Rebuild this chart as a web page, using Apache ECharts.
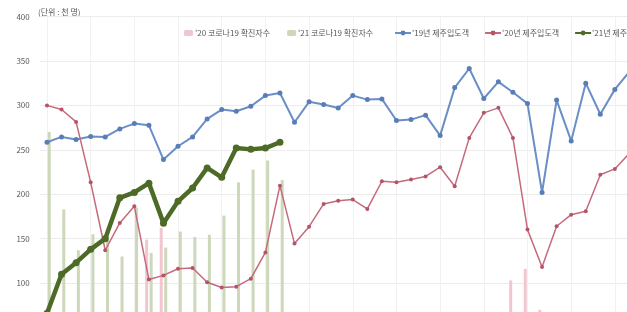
<!DOCTYPE html>
<html>
<head>
<meta charset="utf-8">
<script src="https://cdn.jsdelivr.net/npm/echarts@6/dist/echarts.min.js"></script>
<style>
  html, body { margin: 0; padding: 0; background: #fff; }
  #main { width: 627px; height: 312px; }
</style>
</head>
<body>
<div id="main"></div>
<script>
// 주차 (그림 밖으로 잘린 뒤쪽은 제외)
const weeks = [];
for (let i = 1; i <= 41; i++) weeks.push(i + '주');

// '19년 제주입도객 (천 명)
const visitors19 = [258.5, 264.5, 261.5, 265, 264.5, 273.5, 279.5, 277.6, 239, 254,
  264.5, 284.8, 295.3, 293.4, 299, 311, 314, 281, 304, 301,
  297, 311, 306.5, 307.3, 283, 284, 289, 266, 320, 341.5,
  307.7, 326.5, 314.8, 302, 202, 306, 260, 325, 290, 318, 338];

// '20년 제주입도객
const visitors20 = [300, 295.3, 281.4, 213.4, 137, 167.7, 186.4, 104, 108.7, 116.2,
  117, 101, 95, 96, 105, 134.5, 209.7, 144.5, 163.5, 189.1,
  192.8, 194, 183.5, 214.6, 213.5, 216.5, 220, 230.4, 209, 263.4,
  291.6, 297.2, 263.4, 160.2, 118.2, 164, 177, 180.8, 222, 228.5, 246];

// '21년 제주입도객
const visitors21 = [66, 110, 123, 138, 150, 196, 202, 212.5, 167.5, 192,
  207, 229.6, 219, 252, 250.5, 252, 258.5];

// 코로나19 확진자수 (막대)
const cases20 = [null, null, null, null, null, null, null, 149, 162, null,
  null, null, null, null, null, null, null, null, null, null,
  null, null, null, null, null, null, null, null, null, null,
  null, null, 103, 116, 70];
const cases21 = [270, 183, 137, 155, 155, 130, 185, 134, 140, 158,
  152, 154.5, 176, 213.4, 227.7, 238, 216];

const yTicks = { min: 0, max: 400, interval: 50 };

var myChart = echarts.init(document.getElementById('main'));

const labelColor = '#595959';
const font = "'Noto Sans CJK KR', 'Noto Sans', sans-serif";

const option = {
  backgroundColor: '#fff',
  animation: false,
  textStyle: { fontFamily: font },
  graphic: [
    {
      type: 'text',
      left: 38,
      top: 8,
      style: { text: '(단위 : 천 명)', fontSize: 8, fill: labelColor, fontFamily: font }
    }
  ],
  legend: [
    {
      data: ["'20 코로나19 확진자수", "'21 코로나19 확진자수"],
      left: 179,
      top: 24,
      width: 220,
      itemWidth: 9,
      itemHeight: 6,
      itemGap: 17,
      textStyle: { fontSize: 8, color: labelColor, padding: [0, 0, 0, -3] }
    },
    {
      data: ["'19년 제주입도객", "'20년 제주입도객", "'21년 제주입도객"],
      left: 389,
      top: 24,
      width: 400,
      itemWidth: 16,
      itemHeight: 6,
      itemGap: 15,
      textStyle: { fontSize: 8, color: labelColor, padding: [0, 0, 0, -4] }
    }
  ],
  grid: {
    left: 39.7,
    top: 16.5,
    width: 597,
    height: 355.5,
    outerBoundsMode: 'none',
    containLabel: false
  },
  xAxis: {
    type: 'category',
    data: weeks,
    axisLine: { show: false },
    axisTick: { show: false },
    axisLabel: { show: false },
    splitLine: { show: true, alignWithLabel: true, lineStyle: { color: '#f1f1f1', width: 1 } }
  },
  yAxis: {
    type: 'value',
    min: yTicks.min,
    max: yTicks.max,
    interval: yTicks.interval,
    axisLine: { show: false },
    axisTick: { show: false },
    axisLabel: { fontSize: 8, color: labelColor, margin: 10 },
    splitLine: { lineStyle: { color: '#ececec', width: 1 } }
  },
  series: [
    {
      name: "'20 코로나19 확진자수",
      type: 'bar',
      data: cases20,
      barWidth: 3,
      barGap: '50%',
      itemStyle: { color: '#f2c6cf' },
      z: 1
    },
    {
      name: "'21 코로나19 확진자수",
      type: 'bar',
      data: cases21,
      barWidth: 3,
      barGap: '50%',
      itemStyle: { color: '#cdd8ba' },
      z: 1
    },
    {
      name: "'19년 제주입도객",
      type: 'line',
      data: visitors19,
      symbol: 'circle',
      symbolSize: 5,
      lineStyle: { color: '#6a8ec6', width: 2 },
      itemStyle: { color: '#5a7db8' },
      z: 3
    },
    {
      name: "'20년 제주입도객",
      type: 'line',
      data: visitors20,
      symbol: 'circle',
      symbolSize: 4,
      lineStyle: { color: '#c56a7c', width: 1.5 },
      itemStyle: { color: '#b45468' },
      z: 3
    },
    {
      name: "'21년 제주입도객",
      type: 'line',
      data: visitors21,
      symbol: 'circle',
      symbolSize: 7,
      lineStyle: { color: '#4d6b26', width: 4.5 },
      itemStyle: { color: '#4d6b26' },
      z: 4
    }
  ]
};

myChart.setOption(option);
</script>
</body>
</html>
